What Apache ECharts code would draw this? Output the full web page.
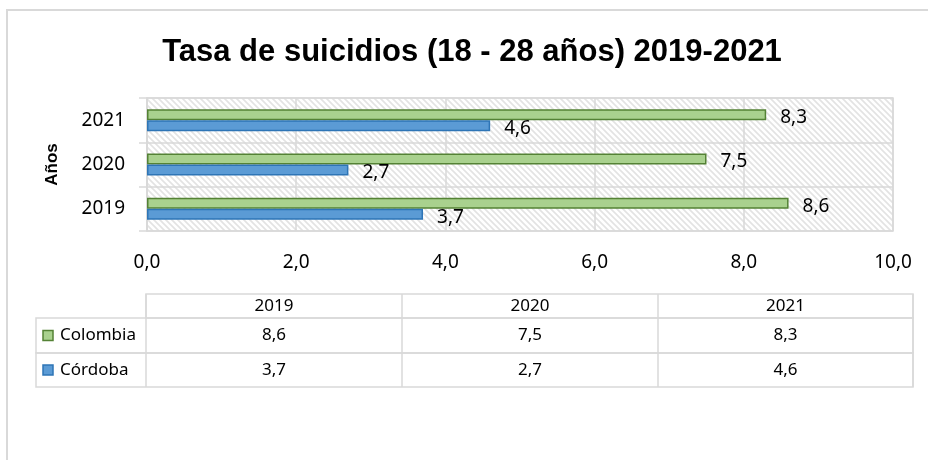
<!DOCTYPE html>
<html>
<head>
<meta charset="utf-8">
<script src="https://cdn.jsdelivr.net/npm/echarts@6/dist/echarts.min.js"></script>
<style>
html,body{margin:0;padding:0;background:#fff;}
#chart{width:928px;height:460px;}
</style>
</head>
<body>
<div id="chart"></div>
<script>
const titleText = 'Tasa de suicidios (18 - 28 años) 2019-2021';
const years = ['2019', '2020', '2021'];
const seriesNames = ['Colombia', 'Córdoba'];
const colombia = [8.6, 7.5, 8.3];
const cordoba = [3.7, 2.7, 4.6];
const xTicks = [0, 2, 4, 6, 8, 10];
const yAxisName = 'Años';

const fmt = v => v.toFixed(1).replace('.', ',');

// hatch pattern
const pc = document.createElement('canvas');
pc.width = 6; pc.height = 6;
const ctx = pc.getContext('2d');
ctx.fillStyle = '#ffffff';
ctx.fillRect(0, 0, 6, 6);
ctx.strokeStyle = '#e3e3e3';
ctx.lineWidth = 1.6;
ctx.beginPath();
ctx.moveTo(-1, -1); ctx.lineTo(7, 7);
ctx.moveTo(-4, 2); ctx.lineTo(4, 10);
ctx.moveTo(2, -4); ctx.lineTo(10, 4);
ctx.stroke();

const fills = ['#a9d18e', '#5b9bd5'];
const borders = ['#548235', '#2e75b6'];
const seriesData = [colombia, cordoba];

const chart = echarts.init(document.getElementById('chart'), null, {renderer: 'canvas'});

// table layout
const tblLeft = 36, colEdges = [146, 402, 658, 913];
const rowEdges = [294, 318, 353, 387];
const grey = '#d9d9d9';
const tfont = '"Noto Sans", sans-serif';
const graphics = [];
// outer frame
graphics.push({type: 'polyline', shape: {points: [[7, 470], [7, 10], [940, 10]]}, style: {stroke: grey, lineWidth: 2, fill: null}, silent: true});
// header row
graphics.push({type: 'rect', shape: {x: colEdges[0], y: rowEdges[0], width: colEdges[3] - colEdges[0], height: rowEdges[1] - rowEdges[0]}, style: {fill: null, stroke: grey, lineWidth: 1.5}});
for (let i = 0; i < years.length; i++) {
  graphics.push({type: 'line', shape: {x1: colEdges[i], y1: rowEdges[0], x2: colEdges[i], y2: rowEdges[3]}, style: {stroke: grey, lineWidth: 1.5}});
  graphics.push({type: 'text', style: {text: years[i], x: (colEdges[i] + colEdges[i + 1]) / 2, y: (rowEdges[0] + rowEdges[1]) / 2, align: 'center', verticalAlign: 'middle', font: '17px ' + tfont, fill: '#000'}});
}
for (let r = 0; r < seriesNames.length; r++) {
  const y0 = rowEdges[r + 1], y1 = rowEdges[r + 2];
  graphics.push({type: 'rect', shape: {x: tblLeft, y: y0, width: colEdges[3] - tblLeft, height: y1 - y0}, style: {fill: null, stroke: grey, lineWidth: 1.5}});
  graphics.push({type: 'rect', shape: {x: 43, y: (y0 + y1) / 2 - 5, width: 10, height: 10}, style: {fill: fills[r], stroke: borders[r], lineWidth: 1.5}});
  graphics.push({type: 'text', style: {text: seriesNames[r], x: 60, y: (y0 + y1) / 2, align: 'left', verticalAlign: 'middle', font: '17px ' + tfont, fill: '#000'}});
  for (let i = 0; i < years.length; i++) {
    graphics.push({type: 'text', style: {text: fmt(seriesData[r][i]), x: (colEdges[i] + colEdges[i + 1]) / 2, y: (y0 + y1) / 2, align: 'center', verticalAlign: 'middle', font: '17px ' + tfont, fill: '#000'}});
  }
}
graphics.push({type: 'line', shape: {x1: colEdges[3], y1: rowEdges[0], x2: colEdges[3], y2: rowEdges[3]}, style: {stroke: grey, lineWidth: 1.5}});

const option = {
  animation: false,
  backgroundColor: '#ffffff',
  title: {
    text: titleText,
    left: 467, top: 32, textAlign: 'center',
    textStyle: {fontFamily: '"Liberation Sans", Arial, sans-serif', fontWeight: 'bold', fontSize: 31, color: '#000'}
  },
  grid: {
    left: 147, right: 35, top: 98, height: 133,
    show: true, backgroundColor: {image: pc, repeat: 'repeat'}, borderColor: grey, borderWidth: 1.5
  },
  xAxis: {
    type: 'value', min: xTicks[0], max: xTicks[xTicks.length - 1], interval: 2,
    axisLine: {show: false}, axisTick: {show: false},
    splitLine: {show: true, lineStyle: {color: grey, width: 1.5}},
    axisLabel: {margin: 22, formatter: v => fmt(v), fontFamily: tfont, fontSize: 19, color: '#000'}
  },
  yAxis: {
    type: 'category', data: years,
    name: yAxisName, nameLocation: 'middle', nameGap: 86, nameRotate: 90,
    nameTextStyle: {fontFamily: '"Liberation Sans", Arial, sans-serif', fontWeight: 'bold', fontSize: 17, color: '#000'},
    axisLine: {show: true, lineStyle: {color: grey, width: 1.5}},
    axisTick: {show: true, length: 8, lineStyle: {color: grey, width: 1.5}},
    splitLine: {show: true, lineStyle: {color: grey, width: 1.5}},
    axisLabel: {margin: 22, fontFamily: tfont, fontSize: 19, color: '#000'}
  },
  series: seriesNames.map((name, k) => ({
    name: name, type: 'bar', data: seriesData[k],
    barWidth: 11, barGap: '0%',
    itemStyle: {color: fills[k], borderColor: borders[k], borderWidth: 1.5},
    label: {show: true, position: 'right', distance: 14, offset: [0, 3], formatter: p => fmt(p.value), fontFamily: tfont, fontSize: 19, color: '#000'}
  })),
  graphic: graphics
};
chart.setOption(option);
</script>
</body>
</html>
